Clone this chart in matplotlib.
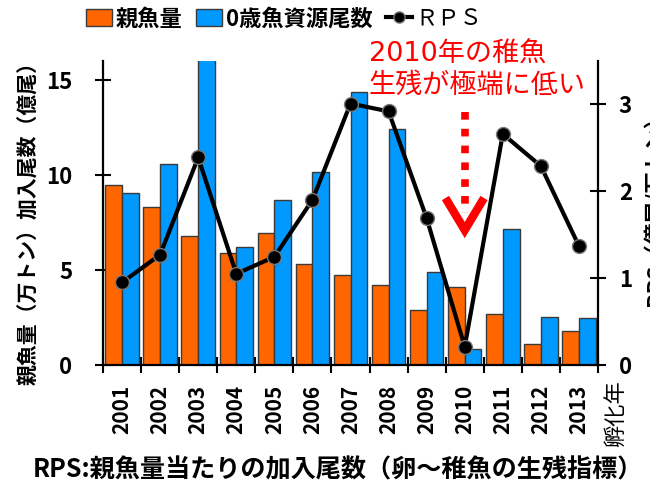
import matplotlib
matplotlib.use("Agg")
import matplotlib.pyplot as plt
from matplotlib.patches import Patch
from matplotlib.lines import Line2D
import numpy as np

plt.rcParams['font.family'] = ['Noto Sans CJK JP', 'DejaVu Sans']

years = ['2001', '2002', '2003', '2004', '2005', '2006', '2007',
         '2008', '2009', '2010', '2011', '2012', '2013']
spawning = [9.45, 8.34, 6.79, 5.88, 6.97, 5.34, 4.76, 4.21, 2.89, 4.12, 2.67, 1.09, 1.79]
recruits = [9.07, 10.6, 16.8, 6.19, 8.68, 10.18, 14.35, 12.4, 4.88, 0.83, 7.14, 2.51, 2.46]
rps = [0.95, 1.27, 2.39, 1.05, 1.245, 1.90, 3.01, 2.92, 1.69, 0.21, 2.66, 2.29, 1.37]

left_ticks = [0, 5, 10, 15]
right_ticks = [0, 1, 2, 3]

c_orange = '#FF6600'
c_blue = '#0099FF'
edge = '#3a3a3a'

W, H = 650, 486
fig = plt.figure(figsize=(W / 100, H / 100), dpi=100)
ax = fig.add_axes([103 / W, 121 / H, 495 / W, 304 / H])
ax2 = ax.twinx()

x = np.arange(len(years))
bw = 0.44
ax.bar(x - 0.22, spawning, width=bw, color=c_orange, edgecolor=edge, linewidth=1.0, zorder=2)
ax.bar(x + 0.22, recruits, width=bw, color=c_blue, edgecolor=edge, linewidth=1.0, zorder=2)

ax2.plot(x, rps, color='black', linewidth=3, marker='o', markersize=10,
         markerfacecolor='black', markeredgecolor='#777777', markeredgewidth=1.0, zorder=5)

ax.set_xlim(-0.5, len(years) - 0.5)
ax.set_ylim(0, 16)
ax2.set_ylim(0, 3.5)

# spines
for a in (ax, ax2):
    a.spines['top'].set_visible(False)
ax.spines['right'].set_visible(False)
ax2.spines['left'].set_visible(False)
ax2.spines['bottom'].set_visible(False)
for s in ('left', 'bottom'):
    ax.spines[s].set_linewidth(1.6)
ax2.spines['right'].set_linewidth(1.6)

# x ticks: boundaries (major) + labels at centers (minor)
ax.set_xticks(np.arange(-0.5, len(years), 1.0))
ax.set_xticklabels([])
ax.set_xticks(x, minor=True)
ax.set_xticklabels(years, minor=True, rotation=90, fontsize=15, fontweight='bold')
ax.tick_params(axis='x', which='major', direction='inout', length=12, width=1.5)
ax.tick_params(axis='x', which='minor', length=0, pad=14)

ax.set_yticks(left_ticks)
ax.set_yticklabels([str(t) for t in left_ticks], fontsize=16, fontweight='bold')
ax.tick_params(axis='y', direction='inout', length=12, width=1.5, pad=16)

ax2.set_yticks(right_ticks)
ax2.set_yticklabels([str(t) for t in right_ticks], fontsize=16, fontweight='bold')
ax2.tick_params(axis='y', direction='inout', length=12, width=1.5, pad=9)

# axis labels
fig.text(29 / W, 1 - 218 / H, '親魚量（万トン）加入尾数（億尾）', rotation=90,
         ha='center', va='center', fontsize=15, fontweight='bold')
fig.text(654 / W, 1 - 205 / H, 'RPS（億尾/万トン）', rotation=90,
         ha='center', va='center', fontsize=15.5, fontweight='bold')
fig.text(616 / W, 1 - 414 / H, '孵化年', rotation=90,
         ha='center', va='center', fontsize=16)
fig.text(33 / W, 1 - 470 / H, 'RPS:親魚量当たりの加入尾数（卵～稚魚の生残指標）',
         ha='left', va='center', fontsize=18.1, fontweight='bold')

# annotation
ann_fam = ['DejaVu Sans', 'Noto Sans CJK JP']
fig.text(369 / W, 1 - 55 / H, '2010年の稚魚', ha='left', va='center',
         fontsize=19.5, color='#FF0000', family=ann_fam)
fig.text(369 / W, 1 - 86 / H, '生残が極端に低い', ha='left', va='center',
         fontsize=19.5, color='#FF0000', family=ann_fam)
ax.plot([9, 9], [13.3, 8.0], color='#FF0000', linewidth=5.5,
        linestyle=(0, (1, 1.2)), zorder=6)
ax.plot([8.55, 9, 9.45], [8.6, 7.1, 8.6], color='#FF0000', linewidth=6,
        solid_joinstyle='miter', zorder=6)

# legend
handles = [Patch(facecolor=c_orange, edgecolor=edge, linewidth=1.0),
           Patch(facecolor=c_blue, edgecolor=edge, linewidth=1.0),
           Line2D([0], [0], color='black', linewidth=3, marker='o', markersize=8,
                  markerfacecolor='black', markeredgecolor='#777777')]
leg = fig.legend(handles, ['親魚量', '0歳魚資源尾数', 'ＲＰＳ'], ncol=3,
                 loc='center', bbox_to_anchor=(284 / W, 1 - 19 / H), frameon=False,
                 prop={'size': 16, 'weight': 'bold'}, handlelength=1.2, handleheight=0.8,
                 handletextpad=0.15, columnspacing=0.6, borderaxespad=0)
leg.get_texts()[2].set_fontweight('normal')

fig.savefig('out.png', dpi=100)
